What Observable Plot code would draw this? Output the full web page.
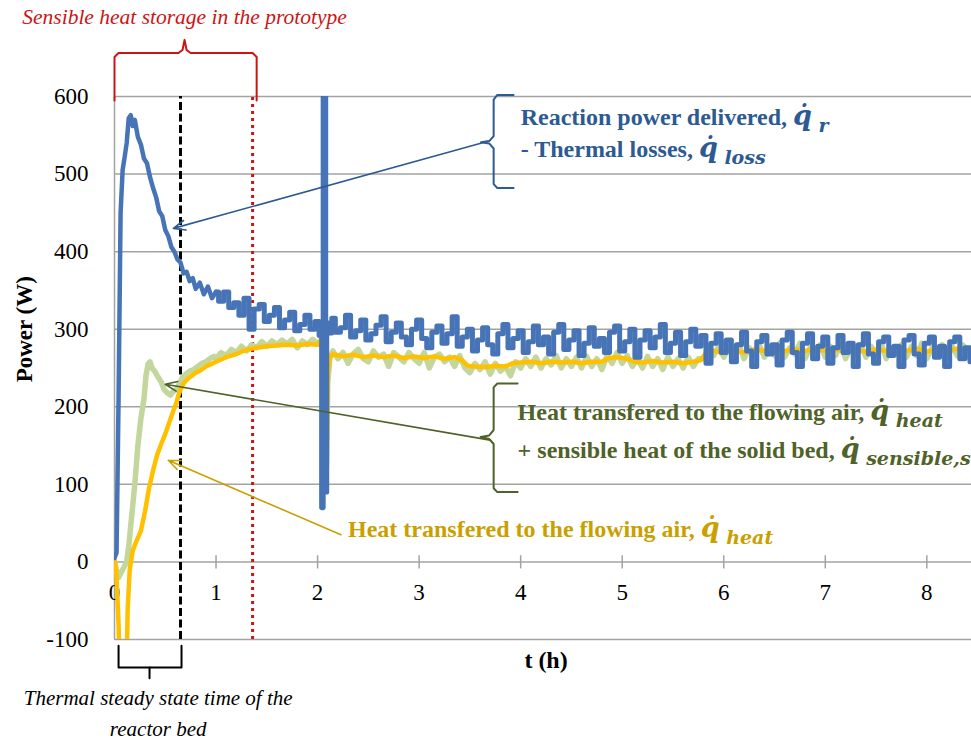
<!DOCTYPE html>
<html><head><meta charset="utf-8">
<script src="https://cdn.jsdelivr.net/npm/d3@7"></script>
<script src="https://cdn.jsdelivr.net/npm/@observablehq/plot@0.6"></script>
<style>body{margin:0;background:#fff} svg{display:block}</style>
</head><body><div id="chart"></div>
<script>
// ---------- data ----------
const yTicks = [-100, 0, 100, 200, 300, 400, 500, 600];
const xTicks = [0, 1, 2, 3, 4, 5, 6, 7, 8];
const steadyStateHour = 0.65;
const sensibleEndHour = 1.36;

// Reaction power delivered - thermal losses [t (h), W]
const blueSeries = [
[0,5],[0.02,12],[0.04,210],[0.06,450],[0.08,505],[0.10,522],[0.12,540],[0.14,572],[0.16,576],[0.18,562],[0.20,570],[0.23,548],[0.26,538],[0.29,520],[0.32,514],[0.35,496],[0.38,482],[0.41,470],[0.44,452],[0.47,446],[0.50,428],[0.53,420],[0.56,406],[0.59,400],[0.62,390],[0.65,386],[0.68,372],[0.71,374],[0.74,362],[0.77,366],[0.80,352],[0.84,360],[0.88,345],[0.92,355],[0.96,340],[1.00,348],
[1.05,336],[1.10,348],[1.15,328],[1.20,334],[1.25,318],[1.30,340],[1.35,300],[1.40,326],[1.45,332],[1.50,310],[1.55,318],[1.60,328],[1.65,302],[1.70,312],[1.75,322],[1.80,298],[1.85,306],[1.90,318],[1.95,300],[2.00,310],
[2.03,292],[2.05,70],[2.06,640],[2.075,640],[2.085,90],[2.095,296],[2.11,308],[2.13,295],
[2.15,314],[2.20,296],[2.25,302],[2.30,318],[2.35,290],[2.40,298],[2.45,312],[2.50,286],[2.55,294],[2.60,305],[2.65,316],[2.70,284],[2.75,296],[2.80,308],[2.85,290],[2.90,280],[2.95,300],[3.00,312],[3.05,288],[3.10,276],[3.15,296],[3.20,304],[3.25,282],[3.30,294],[3.35,316],[3.40,278],[3.45,290],[3.50,300],[3.55,272],[3.60,286],[3.65,302],[3.70,280],[3.75,268],[3.80,294],[3.85,306],[3.90,276],[3.95,288],[4.00,298],[4.05,270],[4.10,284],[4.15,304],[4.20,280],[4.25,290],[4.30,268],[4.35,296],[4.40,306],[4.45,274],[4.50,286],[4.55,298],[4.60,266],[4.65,282],[4.70,302],[4.75,278],[4.80,288],[4.85,270],[4.90,296],[4.95,304],[5.00,272],[5.05,284],[5.10,300],[5.15,264],[5.20,286],[5.25,298],[5.30,276],[5.35,290],[5.40,306],[5.45,270],[5.50,282],[5.55,296],[5.60,266],[5.65,284],[5.70,300],[5.75,278],[5.80,292],[5.85,256],[5.90,282],[5.95,294],[6.00,270],[6.05,286],[6.10,258],[6.15,280],[6.20,296],[6.25,272],[6.30,252],[6.35,284],[6.40,292],[6.45,268],[6.50,280],[6.55,254],[6.60,286],[6.65,296],[6.70,270],[6.75,252],[6.80,282],[6.85,294],[6.90,262],[6.95,278],[7.00,290],[7.05,256],[7.10,276],[7.15,292],[7.20,270],[7.25,282],[7.30,252],[7.35,280],[7.40,294],[7.45,268],[7.50,256],[7.55,284],[7.60,290],[7.65,266],[7.70,278],[7.75,252],[7.80,286],[7.85,292],[7.90,268],[7.95,254],[8.00,282],[8.05,290],[8.10,264],[8.15,278],[8.20,252],[8.25,284],[8.30,290],[8.35,262],[8.40,276],[8.45,258]
];

// Heat transferred to the flowing air [t (h), W]
const yellowSeries = [
[0,5],[0.02,-20],[0.04,-80],[0.05,-130],[0.12,-130],[0.13,-60],[0.15,-10],[0.18,15],[0.22,28],[0.26,40],[0.30,65],[0.34,95],[0.38,118],[0.42,138],[0.46,152],[0.50,165],[0.54,180],[0.58,195],[0.61,205],[0.63,215],[0.65,222],[0.68,230],[0.72,236],[0.76,240],[0.80,244],[0.85,247],[0.90,252],[0.95,255],[1.00,258],[1.05,261],[1.10,264],[1.15,266],[1.20,268],[1.25,271],[1.30,273],[1.35,275],[1.40,276],[1.50,278],[1.60,279],[1.70,280],[1.80,279],[1.90,281],[2.00,280],[2.03,286],[2.05,282],[2.06,200],[2.07,150],[2.08,140],[2.09,150],[2.10,240],[2.12,264],
[2.15,268],[2.25,265],[2.35,267],[2.45,264],[2.55,266],[2.65,264],[2.75,266],[2.85,263],[2.95,265],[3.05,263],[3.15,265],[3.25,262],[3.35,264],[3.42,260],[3.48,253],[3.55,252],[3.65,251],[3.75,253],[3.85,252],[3.92,256],[4.00,257],[4.10,258],[4.20,256],[4.30,258],[4.40,257],[4.50,258],[4.60,256],[4.70,258],[4.80,258],[4.87,263],[4.95,264],[5.05,262],[5.12,258],[5.20,257],[5.30,259],[5.40,257],[5.50,258],[5.60,256],[5.70,258],[5.77,260],[5.82,268],[5.90,272],[6.00,270],[6.10,273],[6.20,270],[6.30,274],[6.40,272],[6.50,275],[6.60,272],[6.70,274],[6.80,272],[6.90,275],[7.00,272],[7.10,274],[7.20,271],[7.30,274],[7.40,271],[7.50,274],[7.60,272],[7.70,275],[7.80,272],[7.90,275],[8.00,271],[8.10,274],[8.20,272],[8.30,275],[8.45,272]
];

// Heat to air + sensible heat of the solid bed [t (h), W]
const greenSeries = [
[0,0],[0.04,-20],[0.08,-10],[0.12,0],[0.14,20],[0.17,60],[0.20,100],[0.23,150],[0.26,185],[0.29,210],[0.31,240],[0.33,255],[0.35,258],[0.37,250],[0.40,245],[0.43,238],[0.46,232],[0.49,222],[0.52,218],[0.55,215],[0.58,220],[0.61,222],[0.64,230],[0.67,238],[0.70,242],[0.74,246],[0.78,248],[0.82,252],[0.86,256],[0.90,258],[0.94,262],[0.98,265],
[1.00,262],[1.05,270],[1.10,266],[1.15,274],[1.20,270],[1.25,278],[1.30,272],[1.35,280],[1.40,276],[1.45,284],[1.50,278],[1.55,285],[1.60,280],[1.65,286],[1.70,281],[1.75,287],[1.80,276],[1.85,285],[1.90,280],[1.95,287],[2.00,282],[2.03,284],[2.05,270],[2.06,180],[2.07,110],[2.08,105],[2.09,130],[2.10,230],[2.12,262],
[2.15,272],[2.20,262],[2.25,270],[2.30,256],[2.35,268],[2.40,274],[2.45,262],[2.50,258],[2.55,272],[2.60,264],[2.65,268],[2.70,252],[2.75,270],[2.80,264],[2.85,258],[2.90,270],[2.95,262],[3.00,256],[3.05,270],[3.10,250],[3.15,264],[3.20,268],[3.25,258],[3.30,264],[3.35,252],[3.40,266],[3.45,250],[3.50,244],[3.55,256],[3.60,248],[3.65,258],[3.70,242],[3.75,256],[3.80,246],[3.85,252],[3.90,240],[3.95,258],[4.00,250],[4.05,262],[4.10,252],[4.15,264],[4.20,250],[4.25,262],[4.30,254],[4.35,266],[4.40,250],[4.45,262],[4.50,252],[4.55,264],[4.60,250],[4.65,265],[4.70,252],[4.75,262],[4.80,248],[4.85,266],[4.90,256],[4.95,270],[5.00,256],[5.05,266],[5.10,252],[5.15,262],[5.20,250],[5.25,265],[5.30,252],[5.35,262],[5.40,248],[5.45,264],[5.50,252],[5.55,262],[5.60,250],[5.65,264],[5.70,252],[5.75,262],[5.80,262],[5.85,276],[5.90,266],[5.95,278],[6.00,264],[6.05,276],[6.10,266],[6.15,280],[6.20,262],[6.25,276],[6.30,268],[6.35,280],[6.40,264],[6.45,276],[6.50,266],[6.55,282],[6.60,264],[6.65,276],[6.70,268],[6.75,282],[6.80,262],[6.85,276],[6.90,268],[6.95,280],[7.00,264],[7.05,278],[7.10,266],[7.15,282],[7.20,262],[7.25,276],[7.30,268],[7.35,280],[7.40,264],[7.45,278],[7.50,266],[7.55,282],[7.60,262],[7.65,276],[7.70,268],[7.75,280],[7.80,264],[7.85,278],[7.90,266],[7.95,282],[8.00,262],[8.05,276],[8.10,268],[8.15,280],[8.20,264],[8.25,278],[8.30,266],[8.35,280],[8.45,268]
];

// annotation shapes (data space)
const topBracket = [[0,595],[0,651],[0.04,656],[0.63,656],[0.67,660],[0.69,673],[0.71,660],[0.75,656],[1.36,656],[1.40,651],[1.40,595]];
const bottomBracket = [[0.04,-108],[0.04,-136],[0.66,-136],[0.66,-108]];
const bottomBracketTick = [[0.345,-136],[0.345,-150]];
const blueBrace = [[3.93,602],[3.77,602],[3.734,596],[3.734,549],[3.69,542.5],[3.61,541],[3.69,539.5],[3.734,533],[3.734,487],[3.77,482],[3.93,482]];
const greenBrace = [[3.97,230],[3.77,230],[3.734,225],[3.734,170],[3.69,163],[3.606,161],[3.69,158.5],[3.734,152],[3.734,95],[3.77,90],[3.97,90]];

const COL_BLUE = "#4674b6", COL_YEL = "#ffc000", COL_GRN = "#c3d69b";
const TXT_BLUE = "#2c5a92", TXT_GRN = "#4f6228", TXT_YEL = "#c9a000", RED = "#cc1414";

const arrows = [
  {x1: 3.67, y1: 542, x2: 0.58, y2: 430, c: TXT_BLUE},
  {x1: 3.70, y1: 157, x2: 0.50, y2: 229, c: TXT_GRN},
  {x1: 2.23, y1: 35, x2: 0.53, y2: 131, c: TXT_YEL}
];

const blueLabels = [
  {x: 4.0, y: 563, t: "Reaction power delivered, ¦r"},
  {x: 4.0, y: 522, t: "- Thermal losses, ¦loss"}
];
const greenLabels = [
  {x: 3.97, y: 183, t: "Heat transfered to the flowing air, ¦heat"},
  {x: 3.97, y: 134, t: "+ sensible heat of the solid bed, ¦sensible,s"}
];
const yellowLabels = [
  {x: 2.30, y: 32, t: "Heat transfered to the flowing air, ¦heat"}
];
const captionLines = [
  {x: 0.43, y: -185, t: "Thermal steady state time of the"},
  {x: 0.43, y: -224, t: "reactor bed"}
];

const P = d => d[0], V = d => d[1];
const blueEarly = blueSeries.filter(d => d[0] <= 1.0);
const blueLate = blueSeries.filter(d => d[0] >= 1.0);

const plot = Plot.plot({
  width: 971, height: 742,
  marginLeft: 114, marginRight: 0, marginTop: 96, marginBottom: 103,
  x: {domain: [0, 8.44], axis: null},
  y: {domain: [-100, 600]},
  style: {fontFamily: "Liberation Serif", background: "white", color: "black"},
  marks: [
    Plot.ruleY(yTicks, {stroke: "#a3a3a3", strokeWidth: 1.5}),
    Plot.ruleX([0], {y1: -100, y2: 600, stroke: "#a3a3a3", strokeWidth: 1.5}),
    Plot.ruleX(xTicks.slice(1), {y1: 8, y2: -9, stroke: "#a3a3a3", strokeWidth: 1.5}),
    Plot.axisY(yTicks, {tickSize: 0, tickPadding: 26, fontSize: 23, label: null, fill: "black", tickFormat: d => String(d)}),
    Plot.text(xTicks, {x: d => d, y: 0, dy: 31, fontSize: 23, fill: "black"}),
    Plot.text(["Power (W)"], {x: 0, y: 300, dx: -90, rotate: -90, fontSize: 23, fontWeight: "bold", fill: "black"}),
    Plot.text(["t (h)"], {x: 4.25, y: -127, fontSize: 24, fontWeight: "bold", fill: "black"}),

    Plot.ruleX([sensibleEndHour], {y1: -100, y2: 600, stroke: RED, strokeWidth: 3, strokeDasharray: "3,4"}),
    Plot.ruleX([steadyStateHour], {y1: -100, y2: 600, stroke: "black", strokeWidth: 3, strokeDasharray: "8,3.5"}),

    Plot.line(greenSeries, {x: P, y: V, stroke: COL_GRN, strokeWidth: 5.5, clip: true}),
    Plot.line(yellowSeries, {x: P, y: V, stroke: COL_YEL, strokeWidth: 4.5, clip: true}),
    Plot.line(blueEarly, {x: P, y: V, stroke: COL_BLUE, strokeWidth: 4.5, clip: true}),
    Plot.line(blueLate, {x: P, y: V, stroke: COL_BLUE, strokeWidth: 5, curve: "step", clip: true}),

    Plot.line(topBracket, {x: P, y: V, stroke: RED, strokeWidth: 2}),
    Plot.text(["Sensible heat storage in the prototype"], {x: 0.69, y: 693, lineAnchor: "bottom", fontSize: 21.5, fontStyle: "italic", fill: RED}),
    Plot.line(bottomBracket, {x: P, y: V, stroke: "black", strokeWidth: 2}),
    Plot.line(bottomBracketTick, {x: P, y: V, stroke: "black", strokeWidth: 2}),
    Plot.text(captionLines, {x: "x", y: "y", text: "t", lineAnchor: "bottom", fontSize: 21, fontStyle: "italic", fill: "black"}),

    Plot.line(blueBrace, {x: P, y: V, stroke: TXT_BLUE, strokeWidth: 2}),
    Plot.line(greenBrace, {x: P, y: V, stroke: TXT_GRN, strokeWidth: 2}),
    Plot.arrow(arrows, {x1: "x1", y1: "y1", x2: "x2", y2: "y2", stroke: d => d.c, strokeWidth: 1.6, headLength: 12, headAngle: 45}),

    Plot.text(blueLabels, {x: "x", y: "y", text: "t", textAnchor: "start", lineAnchor: "bottom", fontSize: 24, fontWeight: "bold", fill: TXT_BLUE}),
    Plot.text(greenLabels, {x: "x", y: "y", text: "t", textAnchor: "start", lineAnchor: "bottom", fontSize: 24, fontWeight: "bold", fill: TXT_GRN}),
    Plot.text(yellowLabels, {x: "x", y: "y", text: "t", textAnchor: "start", lineAnchor: "bottom", fontSize: 24, fontWeight: "bold", fill: TXT_YEL})
  ]
});

// rich text: q-dot with subscript
d3.select(plot).selectAll("text").each(function () {
  const s = this.textContent;
  if (s.indexOf("¦") < 0) return;
  const parts = s.split("¦");
  const sel = d3.select(this);
  sel.text(null);
  sel.append("tspan").text(parts[0]);
  sel.append("tspan").attr("font-family", "DejaVu Serif").attr("font-size", 27).attr("font-style", "italic").text("q\u0307");
  sel.append("tspan").attr("font-family", "DejaVu Serif").attr("font-size", 19).attr("font-style", "italic").attr("dy", 7).text(" " + parts[1]);
});

document.getElementById("chart").appendChild(plot);
</script>
</body></html>
